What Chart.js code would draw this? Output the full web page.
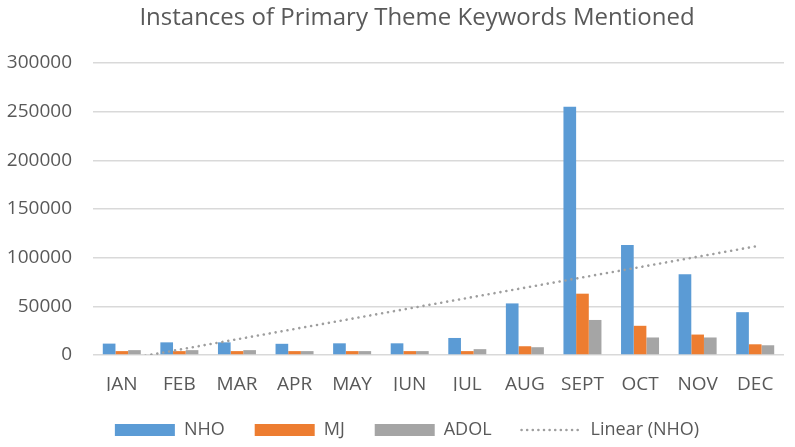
<!DOCTYPE html>
<html><head><meta charset="utf-8">
<script src="https://cdn.jsdelivr.net/npm/chart.js@4/dist/chart.umd.min.js"></script>
<style>html,body{margin:0;padding:0;background:#fff}#wrap{width:795px;height:447px}</style>
</head><body><div id="wrap"><canvas id="c" width="795" height="447"></canvas></div>
<script>
const titleText = 'Instances of Primary Theme Keywords Mentioned';
const categories = ['JAN','FEB','MAR','APR','MAY','JUN','JUL','AUG','SEPT','OCT','NOV','DEC'];
const nho  = [11700,13000,13000,11500,12000,12000,17500,53000,255000,113000,83000,44000];
const mj   = [4000,4000,4000,4000,4000,4000,4000,9000,63000,30000,21000,11000];
const adol = [5000,5000,5000,4000,4000,4000,6000,8000,36000,18000,18000,10000];
const yTicks = [0,50000,100000,150000,200000,250000,300000];

// Linear trendline (least squares) of NHO, as Excel draws it
const n = nho.length;
const xm = (n + 1) / 2;
const ym = nho.reduce((a,b)=>a+b,0) / n;
let sxy = 0, sxx = 0;
nho.forEach((v,i)=>{ const dx = (i+1) - xm; sxy += dx*(v-ym); sxx += dx*dx; });
const slope = sxy / sxx;
const trend = nho.map((v,i)=> ym + slope*((i+1)-xm));

const FONT = "'Open Sans', 'Noto Sans', sans-serif";
const TXT = '#595959';
const TREND = '#9E9E9E';

const layoutTweaks = {
  id:'layoutTweaks',
  afterInit(chart){
    const lg = chart.legend;
    if (lg) {
      const orig = lg.fit;
      lg.fit = function(){ orig.call(this); this.height = 56; };
    }
  },
  afterLayout(chart){
    const lg = chart.legend;
    if (lg) { lg.left += 15; lg.right += 15; }
  },
  afterDraw(chart){
    const ctx = chart.ctx;
    ctx.save();
    ctx.fillStyle = TXT;
    ctx.font = "24px " + FONT;
    ctx.textAlign = 'center';
    ctx.textBaseline = 'middle';
    ctx.fillText(titleText, 417, 18);
    ctx.restore();
  }
};

new Chart(document.getElementById('c'), {
  type: 'bar',
  data: {
    labels: categories,
    datasets: [
      {label:'NHO', data:nho, backgroundColor:'#5B9BD5', borderWidth:0, categoryPercentage:0.66, barPercentage:1, pointStyle:'rect', order:2},
      {label:'MJ', data:mj, backgroundColor:'#ED7D31', borderWidth:0, categoryPercentage:0.66, barPercentage:1, pointStyle:'rect', order:2},
      {label:'ADOL', data:adol, backgroundColor:'#A5A5A5', borderWidth:0, categoryPercentage:0.66, barPercentage:1, pointStyle:'rect', order:2},
      {label:'Linear (NHO)', type:'line', data:trend, borderColor:TREND, backgroundColor:TREND, borderWidth:2.6, borderDash:[0.01,6.0], borderCapStyle:'round', pointRadius:0, pointStyle:'line', fill:false, order:1}
    ]
  },
  plugins:[layoutTweaks],
  options: {
    responsive:false, animation:false,
    layout:{padding:{left:0,right:11,top:63,bottom:0}},
    plugins:{
      title:{display:false},
      legend:{position:'bottom', labels:{usePointStyle:true, pointStyleWidth:60, boxHeight:12, boxWidth:60, color:TXT, font:{family:FONT,size:18}, padding:30,
        sort:(a,b)=>a.datasetIndex-b.datasetIndex,
        generateLabels:(chart)=>{
          const items = Chart.defaults.plugins.legend.labels.generateLabels(chart);
          items.forEach(it=>{
            if (it.datasetIndex === 3) {
              it.lineDash = [0.01, 5.6]; it.lineCap = 'round'; it.lineWidth = 2.6;
              it.strokeStyle = TREND; it.fillStyle = TREND;
            } else {
              it.lineWidth = 0;
            }
          });
          return items;
        }}},
      tooltip:{enabled:false}
    },
    scales:{
      x:{grid:{display:false, drawTicks:false}, border:{display:false},
         ticks:{color:TXT, font:{family:FONT,size:19}, padding:18},
         afterFit:(s)=>{s.height = 36;}},
      y:{min:0, max:300000, afterBuildTicks:(s)=>{s.ticks = yTicks.map(v=>({value:v}));},
         grid:{color:'#D9D9D9', lineWidth:1.5, drawTicks:false}, border:{display:false},
         ticks:{color:TXT, font:{family:FONT,size:19}, padding:21, callback:(v)=>String(v)},
         afterFit:(s)=>{s.width = 93;}}
    }
  }
});
</script></body></html>
